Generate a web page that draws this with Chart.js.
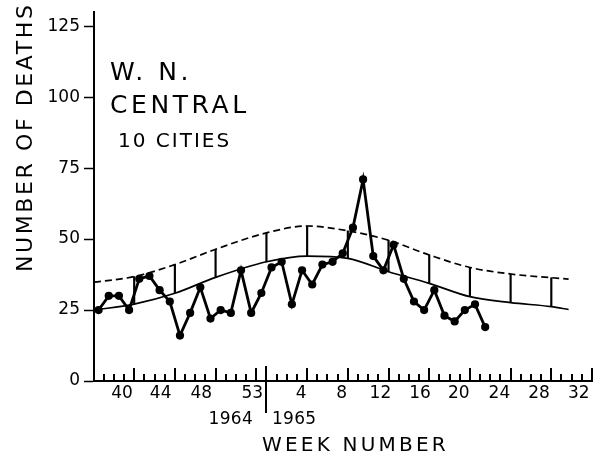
<!DOCTYPE html>
<html>
<head>
<meta charset="utf-8">
<script src="https://cdn.jsdelivr.net/npm/chart.js@4.4.1/dist/chart.umd.min.js"></script>
<style>
  html, body { margin: 0; padding: 0; background: #fff; }
  #wrap { width: 600px; height: 457px; }
</style>
</head>
<body>
<div id="wrap"><canvas id="chart" width="600" height="457"></canvas></div>
<script>
// Weekly deaths, W. N. Central region, 10 cities (1964 week 37 to 1965 week 22)
const weeks1964 = [37, 38, 39, 40, 41, 42, 43, 44, 45, 46, 47, 48, 49, 50, 51, 52, 53];
const weeks1965 = [1, 2, 3, 4, 5, 6, 7, 8, 9, 10, 11, 12, 13, 14, 15, 16, 17, 18, 19, 20, 21, 22];
const deaths = [25, 30, 30, 25, 36, 37, 32, 28, 16, 24, 33, 22, 25, 24, 39, 24, 31,
                40, 42, 27, 39, 34, 41, 42, 45, 54, 71, 44, 39, 48, 36, 28, 25, 32, 23, 21, 25, 27, 19];

// Expected deaths (solid) and epidemic threshold (dashed), read at 4-week boundaries
const curveWeekPos = [-0.45, 3.5, 7.5, 11.5, 16.5, 20.5, 24.5, 28.5, 32.5, 36.5, 40.5, 44.5, 46.2];
const expected  = [25, 27.1, 30.9, 36.5, 42, 44, 43.2, 38.5, 34.4, 29.7, 27.6, 26.2, 25.2];
const threshold = [34.8, 36.8, 41, 46.4, 52.2, 54.6, 52.9, 49.6, 44.4, 40, 37.7, 36.4, 35.9];

// Axis labelling
const xTickLabels = ['40', '44', '48', '53', '4', '8', '12', '16', '20', '24', '28', '32'];
const xTickPos    = [2.3, 6.1, 10.1, 15.1, 19.9, 23.9, 27.7, 31.6, 35.4, 39.4, 43.3, 47.2];
const yTickValues = [0, 25, 50, 75, 100, 125];
const yearBreak = weeks1964.length - 0.5;

const FONT = '"DejaVu Sans", sans-serif';

const deathPoints = deaths.map((v, i) => ({ x: i, y: v }));
const expectedPoints = expected.map((v, i) => ({ x: curveWeekPos[i], y: v }));
const thresholdPoints = threshold.map((v, i) => ({ x: curveWeekPos[i], y: v }));
const bandLinks = curveWeekPos.slice(1, -1).map((p, i) => ({ x: p, y: [expected[i + 1], threshold[i + 1]] }));

function spacedText(ctx, text, x, y, font, spacing, align) {
  ctx.save();
  ctx.font = font;
  ctx.letterSpacing = spacing + 'px';
  ctx.textAlign = align || 'left';
  ctx.textBaseline = 'alphabetic';
  ctx.fillStyle = '#000';
  ctx.fillText(text, x, y);
  ctx.restore();
}

// Week-end number for each boundary slot k (end of slot k), continuing past the data
function weekEnding(k) {
  if (k < weeks1964.length) return weeks1964[k];
  return k - weeks1964.length + 1;
}

// Upward week tick marks, year divider and free-standing text
const decorations = {
  id: 'decorations',
  afterDraw(chart) {
    const { ctx, scales: { x, y } } = chart;
    const base = Math.round(y.getPixelForValue(0));
    ctx.save();
    ctx.fillStyle = '#000';
    for (let k = 0; k <= 48; k++) {
      const px = x.getPixelForValue(k + 0.5);
      const wk = weekEnding(k);
      const longTick = wk % 4 === 0 || k === weeks1964.length - 1;
      const len = longTick ? 13 : 7;
      ctx.fillRect(Math.round(px) - 1, base - len, 2, len);
    }
    // 1964 / 1965 divider
    const bx = Math.round(x.getPixelForValue(yearBreak));
    ctx.fillRect(bx - 1, base - 15, 2, 47);
    ctx.restore();

    spacedText(ctx, '1964', bx - 13, 424, '17px ' + FONT, 0.3, 'right');
    spacedText(ctx, '1965', bx + 6, 424, '17px ' + FONT, 0.3, 'left');
    spacedText(ctx, 'WEEK NUMBER', 262, 451, '20px ' + FONT, 3.2, 'left');

    ctx.save();
    ctx.translate(32, 272);
    ctx.rotate(-Math.PI / 2);
    spacedText(ctx, 'NUMBER OF DEATHS', 0, 0, '22px ' + FONT, 2.6, 'left');
    ctx.restore();

    spacedText(ctx, 'W. N.', 110, 80, '25px ' + FONT, 3.5, 'left');
    spacedText(ctx, 'CENTRAL', 110, 113, '25px ' + FONT, 3.6, 'left');
    spacedText(ctx, '10 CITIES', 118, 147, '20px ' + FONT, 2, 'left');
  }
};

new Chart(document.getElementById('chart'), {
  type: 'line',
  data: {
    datasets: [
      {
        type: 'line',
        data: deathPoints,
        borderColor: '#000',
        backgroundColor: '#000',
        borderWidth: 2.8,
        pointRadius: 4.1,
        pointBorderWidth: 0,
        tension: 0,
        order: 1
      },
      {
        type: 'line',
        data: expectedPoints,
        borderColor: '#000',
        borderWidth: 1.7,
        pointRadius: 0,
        cubicInterpolationMode: 'monotone',
        order: 3
      },
      {
        type: 'line',
        data: thresholdPoints,
        borderColor: '#000',
        borderWidth: 1.7,
        borderDash: [7, 4],
        pointRadius: 0,
        cubicInterpolationMode: 'monotone',
        order: 3
      },
      {
        type: 'bar',
        data: bandLinks,
        backgroundColor: '#000',
        borderWidth: 0,
        barThickness: 1.5,
        grouped: false,
        order: 4
      }
    ]
  },
  options: {
    responsive: false,
    animation: false,
    devicePixelRatio: 1,
    layout: { padding: { top: 12, right: 8, left: 0, bottom: 0 } },
    plugins: { legend: { display: false }, tooltip: { enabled: false } },
    scales: {
      x: {
        type: 'linear',
        offset: false,
        min: -0.45,
        max: 48.5,
        afterFit(scale) {
          scale.height = 76;
          scale.paddingLeft = 0;
          scale.paddingRight = 0;
        },
        afterBuildTicks(scale) { scale.ticks = xTickPos.map(v => ({ value: v })); },
        grid: { display: false, drawTicks: false },
        border: { display: true, color: '#000', width: 2 },
        ticks: {
          autoSkip: false,
          maxRotation: 0,
          padding: 2,
          color: '#000',
          font: { family: FONT, size: 17 },
          callback: (value, index) => xTickLabels[index]
        }
      },
      y: {
        min: 0,
        max: 130,
        afterFit(scale) {
          scale.width = 94;
          scale.paddingTop = 0;
          scale.paddingBottom = 0;
        },
        afterBuildTicks(scale) { scale.ticks = yTickValues.map(v => ({ value: v })); },
        grid: { display: true, drawOnChartArea: false, drawTicks: true, tickLength: 10, tickColor: '#000', tickWidth: 1.5 },
        border: { display: true, color: '#000', width: 2 },
        ticks: {
          padding: 4,
          color: '#000',
          font: { family: FONT, size: 17 }
        }
      }
    }
  },
  plugins: [decorations]
});
</script>
</body>
</html>
